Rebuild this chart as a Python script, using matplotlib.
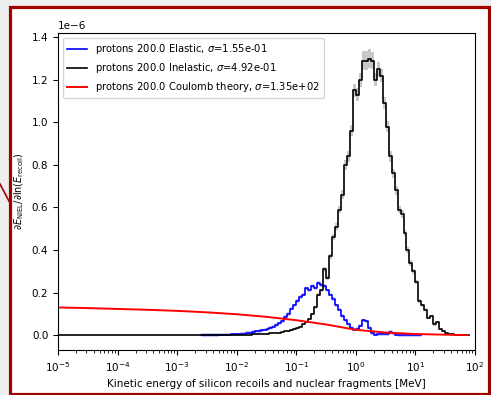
import numpy as np
import matplotlib
matplotlib.use("Agg")
import matplotlib.pyplot as plt
from matplotlib.patches import Rectangle
from matplotlib.lines import Line2D

# ----------------- Data (values in units of 1e-6) -----------------
# inelastic histogram, 20 bins per decade starting at log10(E) = -2.0
inel_start = -2.0
inel_vals = [0.000, 0.001, 0.001, 0.002, 0.002, 0.003, 0.003, 0.004, 0.005, 0.006,
             0.007, 0.008, 0.010, 0.011, 0.012, 0.014, 0.017, 0.020, 0.024, 0.028,
             0.033, 0.040, 0.050, 0.062, 0.075, 0.100, 0.130, 0.190, 0.210, 0.310,
             0.270, 0.370, 0.460, 0.510, 0.590, 0.660, 0.800, 0.840, 0.960, 1.150,
             1.130, 1.200, 1.290, 1.290, 1.300, 1.290, 1.200, 1.250, 1.220, 1.090,
             0.980, 0.840, 0.760, 0.680, 0.590, 0.570, 0.480, 0.400, 0.340, 0.300,
             0.250, 0.160, 0.140, 0.120, 0.080, 0.090, 0.050, 0.060, 0.030, 0.020,
             0.008, 0.004, 0.003, 0.002, 0.002, 0.001, 0.001, 0.000]
inel_err = [0.000, 0.001, 0.001, 0.001, 0.001, 0.001, 0.001, 0.001, 0.001, 0.001,
            0.001, 0.001, 0.002, 0.002, 0.002, 0.002, 0.002, 0.003, 0.003, 0.003,
            0.003, 0.004, 0.004, 0.005, 0.005, 0.006, 0.007, 0.008, 0.009, 0.012,
            0.011, 0.013, 0.015, 0.016, 0.018, 0.020, 0.022, 0.024, 0.026, 0.030,
            0.030, 0.032, 0.045, 0.045, 0.045, 0.040, 0.030, 0.035, 0.032, 0.028,
            0.026, 0.024, 0.022, 0.020, 0.018, 0.018, 0.016, 0.015, 0.013, 0.012,
            0.011, 0.009, 0.008, 0.008, 0.006, 0.006, 0.005, 0.005, 0.004, 0.003,
            0.002, 0.001, 0.001, 0.001, 0.001, 0.001, 0.001, 0.000]

# elastic histogram, 20 bins per decade starting at log10(E) = -2.6
el_start = -2.6
el_vals = [0.000, 0.000, 0.001, 0.001, 0.001, 0.001, 0.002, 0.002, 0.002, 0.002,
           0.003, 0.003, 0.004, 0.005, 0.007, 0.009, 0.011, 0.014, 0.017, 0.020,
           0.022, 0.025, 0.030, 0.035, 0.040, 0.047, 0.055, 0.065, 0.085, 0.100,
           0.125, 0.140, 0.160, 0.180, 0.190, 0.220, 0.210, 0.230, 0.220, 0.245,
           0.235, 0.230, 0.210, 0.190, 0.170, 0.140, 0.120, 0.090, 0.070, 0.050,
           0.035, 0.025, 0.030, 0.045, 0.070, 0.065, 0.035, 0.010, 0.002, 0.005,
           0.004, 0.003, 0.004, 0.015, 0.008, 0.002, 0.001, 0.001, 0.001, 0.001,
           0.001, 0.001, 0.001, 0.001]
el_err = 0.008

# Coulomb theory curve
coul_logE = [-5.0, -4.5, -4.0, -3.5, -3.0, -2.5, -2.0, -1.5, -1.0, -0.5,
             0.0, 0.5, 1.0, 1.5, 1.87]
coul_vals = [0.130, 0.127, 0.123, 0.119, 0.114, 0.107, 0.098, 0.086, 0.070, 0.050,
             0.025, 0.012, 0.005, 0.002, 0.000]

labels = ["protons 200.0 Elastic, $\\sigma$=1.55e-01",
          "protons 200.0 Inelastic, $\\sigma$=4.92e-01",
          "protons 200.0 Coulomb theory, $\\sigma$=1.35e+02"]


def hist_edges(start, n):
    return 10 ** (start + 0.05 * np.arange(n + 1))


# ----------------- Figure -----------------
W, H = 491, 395
fig = plt.figure(figsize=(W / 100, H / 100), dpi=100, facecolor="#eeeeee")
# dark red frame round the screenshot
fig.add_artist(Rectangle((10 / W, 1.5 / H), 479 / W, 387 / H,
                         transform=fig.transFigure, facecolor="white",
                         edgecolor="#a00000", linewidth=2.3, zorder=-5))
fig.add_artist(Line2D([0, 10 / W], [1 - 184 / H, 1 - 203 / H],
                      transform=fig.transFigure, color="#a00000", linewidth=1.2))

ax = fig.add_axes([58 / W, 1 - 350 / H, 417 / W, 317 / H])
scale = 1e-6

# inelastic
e_in = hist_edges(inel_start, len(inel_vals))
v_in = np.array(inel_vals)
er_in = np.array(inel_err)
x_in = np.concatenate([[1e-5], e_in])
y_in = np.concatenate([[0.0], v_in, [v_in[-1]]])
ax.fill_between(e_in, np.append(v_in - er_in, 0) * scale, np.append(v_in + er_in, 0) * scale,
                step="post", color="#bbbbbb", alpha=0.8, lw=0)

# elastic
e_el = hist_edges(el_start, len(el_vals))
v_el = np.array(el_vals)
ax.fill_between(e_el, np.append(v_el - el_err, 0) * scale, np.append(v_el + el_err, 0) * scale,
                step="post", color="#b0b0ff", alpha=0.7, lw=0)

ax.step(e_el, np.append(v_el, v_el[-1]) * scale, where="post", color="blue", lw=1.2, label=labels[0])
ax.step(x_in, y_in * scale, where="post", color="black", lw=1.2, label=labels[1])
ax.plot(10 ** np.array(coul_logE), np.array(coul_vals) * scale, color="red", lw=1.4, label=labels[2])

ax.set_xscale("log")
ax.set_xlim(1e-5, 1e2)
ax.set_ylim(-0.07e-6, 1.42e-6)
ax.tick_params(labelsize=7.5)
ax.yaxis.get_offset_text().set_fontsize(7.5)
ax.set_xlabel("Kinetic energy of silicon recoils and nuclear fragments [MeV]", fontsize=7.5)
ax.set_ylabel(r"$\partial E_{\rm NIEL}/\partial \ln(E_{\rm recoil})$", fontsize=7)
ax.legend(loc="upper left", fontsize=7.2)

fig.savefig("out.png", dpi=100, facecolor=fig.get_facecolor())
